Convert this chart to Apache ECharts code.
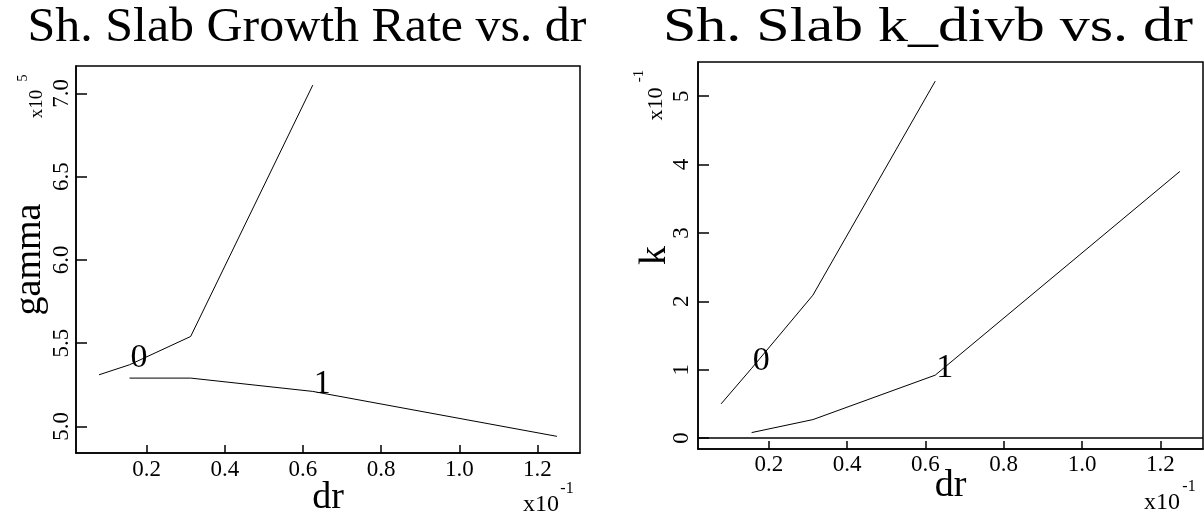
<!DOCTYPE html>
<html>
<head>
<meta charset="utf-8">
<script src="https://cdn.jsdelivr.net/npm/echarts@6/dist/echarts.min.js"></script>
<style>
  html, body { margin: 0; padding: 0; background: #fff; }
  #graph { width: 1204px; height: 516px; }
</style>
</head>
<body>
<div id="graph"></div>
<script>
// dr values are in units of 1e-1, gamma in 1e5, k in 1e-1
const drTicks = [0.2, 0.4, 0.6, 0.8, 1.0, 1.2];
const gammaTicks = [5.0, 5.5, 6.0, 6.5, 7.0];
const kTicks = [0, 1, 2, 3, 4, 5];

const dr0 = [0.078, 0.156, 0.3125, 0.625];
const dr1 = [0.156, 0.3125, 0.625, 1.25];
const gamma0 = [5.31, 5.37, 5.54, 7.05];
const gamma1 = [5.29, 5.29, 5.21, 4.94];
const k0 = [0.50, 1.02, 2.09, 5.22];
const k1 = [0.08, 0.27, 0.92, 3.90];

// which point carries the curve number
const tag0 = 1;
const tag1 = 2;

const FONT = 'Liberation Serif';
const black = '#000';

function pts(xs, ys, tagIdx, tag) {
  return xs.map(function (x, i) {
    const p = { value: [x, ys[i]] };
    if (i === tagIdx) {
      p.label = { show: true, formatter: tag };
    }
    return p;
  });
}

function xAxisCfg(grid, gap, margin) {
  return {
    gridIndex: grid,
    type: 'value',
    min: 0.019,
    max: 1.309,
    name: 'dr',
    nameLocation: 'middle',
    nameGap: gap,
    nameMoveOverlap: false,
    nameTextStyle: { fontFamily: FONT, fontSize: 38, color: black },
    axisLine: { show: true, onZero: false, lineStyle: { color: black, width: 1.5 } },
    axisTick: { show: true, inside: true, length: 8, customValues: drTicks, lineStyle: { color: black, width: 1.5 } },
    axisLabel: {
      customValues: drTicks, color: black, fontFamily: FONT, fontSize: 23, margin: margin,
      formatter: function (v) { return v.toFixed(1); }
    },
    splitLine: { show: false }
  };
}

function yAxisCfg(grid, ticks, mn, mx, name, fmt, gap, margin) {
  return {
    gridIndex: grid,
    type: 'value',
    min: mn,
    max: mx,
    name: name,
    nameLocation: 'middle',
    nameRotate: 90,
    nameGap: gap,
    nameMoveOverlap: false,
    nameTextStyle: { fontFamily: FONT, fontSize: 38, color: black },
    axisLine: { show: true, onZero: false, lineStyle: { color: black, width: 1.5 } },
    axisTick: { show: true, inside: true, length: 11, customValues: ticks, lineStyle: { color: black, width: 1.5 } },
    axisLabel: {
      customValues: ticks, color: black, fontFamily: FONT, fontSize: 23, rotate: 90, margin: margin,
      formatter: fmt
    },
    splitLine: { show: false }
  };
}

const lineStyle = { color: black, width: 1 };
const tagLabel = {
  show: false, position: [1, -24], color: black, fontFamily: FONT, fontSize: 34
};

function lineSeries(name, grid, data) {
  return {
    name: name,
    type: 'line',
    xAxisIndex: grid,
    yAxisIndex: grid,
    data: data,
    symbol: 'circle',
    symbolSize: 0,
    showSymbol: true,
    lineStyle: lineStyle,
    itemStyle: { color: black },
    label: tagLabel,
    silent: true,
    animation: false
  };
}

function txt(x, y, text, size, rot, sx, va) {
  return {
    type: 'text', x: x, y: y, rotation: rot || 0, scaleX: sx || 1,
    style: {
      text: text, fill: black, fontFamily: FONT, fontSize: size,
      align: 'center', verticalAlign: va || 'middle', textAlign: 'center', textVerticalAlign: va || 'middle'
    }
  };
}

var myChart = echarts.init(document.getElementById('graph'));
myChart.setOption({
  backgroundColor: '#fff',
  animation: false,
  grid: [
    { left: 76, top: 66, width: 504, height: 387, outerBoundsMode: 'none', containLabel: false,
      show: true, borderColor: black, borderWidth: 1.5, backgroundColor: 'transparent' },
    { left: 698, top: 62, width: 505, height: 387, outerBoundsMode: 'none', containLabel: false,
      show: true, borderColor: black, borderWidth: 1.5, backgroundColor: 'transparent' }
  ],
  xAxis: [xAxisCfg(0, 26, 5), xAxisCfg(1, 18, 4)],
  yAxis: [
    yAxisCfg(0, gammaTicks, 4.84, 7.165, 'gamma', function (v) { return v.toFixed(1); }, 27, 3),
    yAxisCfg(1, kTicks, -0.16, 5.5, 'k', function (v) { return String(v); }, 24, 5)
  ],
  series: [
    lineSeries('0', 0, pts(dr0, gamma0, tag0, '0')),
    lineSeries('1', 0, pts(dr1, gamma1, tag1, '1')),
    Object.assign(lineSeries('0', 1, pts(dr0, k0, tag0, '0')), {
      markLine: {
        silent: true, symbol: ['none', 'none'], label: { show: false },
        lineStyle: { color: black, width: 1.5, type: 'solid' },
        data: [{ yAxis: 0 }]
      }
    }),
    lineSeries('1', 1, pts(dr1, k1, tag1, '1'))
  ],
  graphic: [
    // panel titles
    txt(307, 4, 'Sh. Slab Growth Rate vs. dr', 48, 0, 1.04, 'top'),
    txt(928, 4, 'Sh. Slab k_divb vs. dr', 48, 0, 1.25, 'top'),
    // axis multipliers
    txt(37, 104, 'x10', 19, Math.PI / 2),
    txt(23, 78, '5', 14, Math.PI / 2),
    txt(656, 104, 'x10', 22, Math.PI / 2),
    txt(639, 76, '-1', 15, Math.PI / 2),
    txt(541, 505, 'x10', 24, 0),
    txt(567, 489, '-1', 16, 0),
    txt(1162, 503, 'x10', 24, 0),
    txt(1189, 487, '-1', 16, 0)
  ]
});
</script>
</body>
</html>
